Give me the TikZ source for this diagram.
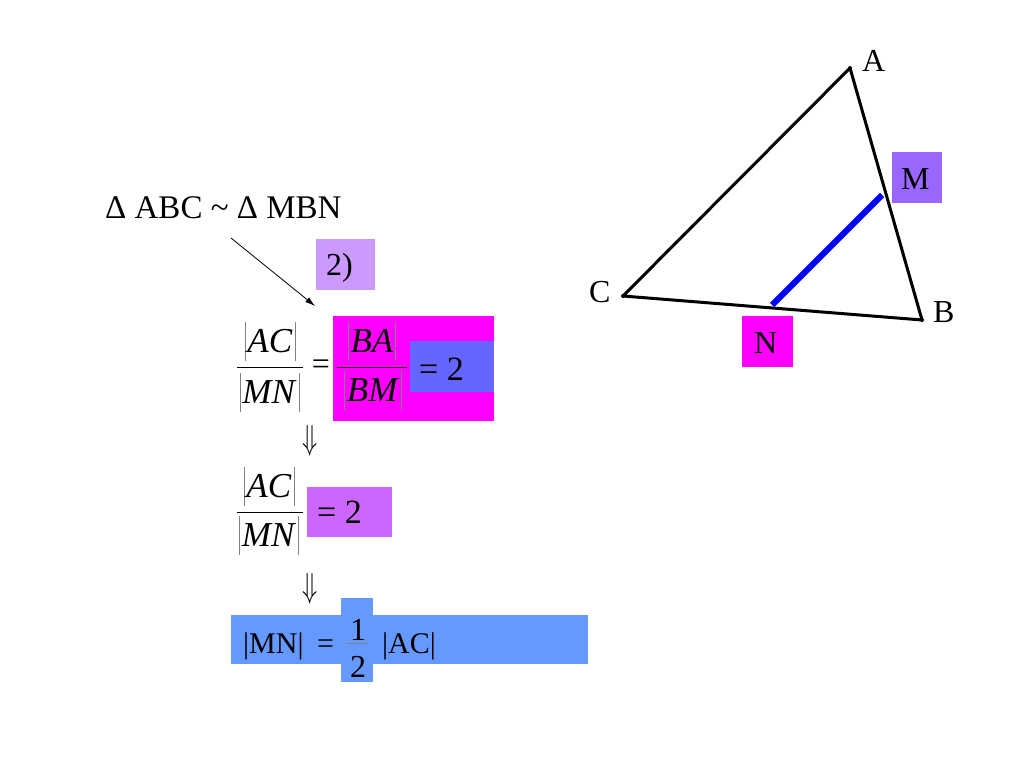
\documentclass[tikz,border=0pt]{standalone}
\usepackage{amsmath}
\usepackage{fontspec}
\setmainfont{Liberation Serif}
\usetikzlibrary{arrows.meta}
\definecolor{lilac}{HTML}{CC99FF}
\definecolor{pinkbox}{HTML}{FF00FF}
\definecolor{bluebox}{HTML}{6666FF}
\definecolor{orchidbox}{HTML}{CC66FF}
\definecolor{violetbox}{HTML}{9966FF}
\definecolor{skybox}{HTML}{6699FF}
\tikzset{
  txt/.style={inner sep=0pt,anchor=base west,font=\fontsize{32}{38}\selectfont},
  big/.style={txt,font=\fontsize{34}{40}\selectfont},
  small/.style={txt,font=\fontsize{30}{36}\selectfont},
  frac/.style={inner sep=0pt,anchor=base,font=\fontsize{35}{40}\selectfont},
  imp/.style={inner sep=0pt,font=\fontsize{30}{36}\selectfont},
  pt/.style={circle,fill=black,inner sep=0pt,minimum size=4pt}
}
\newcommand{\absbar}{\textcolor{gray}{\vrule width 0.8pt height 30pt depth 9pt}}
\newcommand{\absv}[1]{\absbar\hspace{2pt}\textit{#1}\hspace{2pt}\absbar}
\newcommand{\thendown}{\scalebox{1.0}[1.4]{$\Downarrow$}}
\begin{document}
\begin{tikzpicture}[x=1pt,y=-1pt]
  \useasboundingbox (0,0) rectangle (1024,768);

  % coloured boxes
  \fill[lilac] (316,239) rectangle (375,290);
  \fill[pinkbox] (333,316) rectangle (494,421);
  \fill[bluebox] (410,341) rectangle (494,392);
  \fill[orchidbox] (307,487) rectangle (392,537);
  \fill[skybox] (231,615) rectangle (588,664);
  \fill[skybox] (341,598) rectangle (373,682);
  \fill[violetbox] (892,152) rectangle (942,203);
  \fill[pinkbox] (742,316) rectangle (793,367);

  % similarity
  \node[txt,font=\fontsize{33}{38}\selectfont] (sim) at (105,218) {Δ ABC \textasciitilde{} Δ MBN};
  \coordinate (arrstart) at (231,238);
  \coordinate (arrend) at (315,306);
  \draw[-{Latex[length=10pt,width=6pt]},line width=0.8pt] (arrstart) -- (arrend);
  \node[txt] (two) at (326,275) {2)};

  % first line
  \node[frac] (numA) at (270,352) {\absv{AC}};
  \node[frac] (denA) at (269.5,403) {\absv{MN}};
  \draw[line width=0.7pt] (237,367) -- (303,367);
  \node[inner sep=0pt,font=\fontsize{32}{38}\selectfont] (eqA) at (321,367) {=};
  \node[frac] (numB) at (372,352) {\absv{BA}};
  \node[frac] (denB) at (373,401) {\absv{BM}};
  \draw[line width=0.7pt] (337,367) -- (407,367);
  \node[big] (valA) at (419,380) {= 2};
  \node[imp] (impA) at (310.5,441) {\thendown};

  % second line
  \node[frac] (numC) at (269,497) {\absv{AC}};
  \node[frac] (denC) at (269,546) {\absv{MN}};
  \draw[line width=0.7pt] (237,512) -- (303,512);
  \node[big] (valB) at (317,523) {= 2};
  \node[imp] (impB) at (310.5,589) {\thendown};

  % result
  \node[small] (mn) at (243,653) {|MN|};
  \node[small] (eqB) at (317,653) {=};
  \node[txt,anchor=base] (one) at (358,640) {1};
  \node[txt,anchor=base] (twoB) at (358,677) {2};
  \draw[line width=0.5pt,gray] (347,643) -- (368,643);
  \node[small] (ac) at (382,653) {|AC|};

  % triangle
  \node[pt] (A) at (850,68) {};
  \node[pt] (B) at (922,320) {};
  \node[pt] (C) at (623,296) {};
  \draw[line width=3pt,line join=round] (A.center) -- (B.center) -- (C.center) -- cycle;
  \coordinate (M) at (882,195);
  \coordinate (N) at (772,305);
  \draw[blue,line width=6pt] (M) -- (N);
  \node[txt] (labA) at (862,71) {A};
  \node[txt] (labB) at (933,322) {B};
  \node[txt] (labC) at (589,302) {C};
  \node[txt] (labM) at (901,189) {M};
  \node[txt] (labN) at (754,353) {N};
\end{tikzpicture}
\end{document}
